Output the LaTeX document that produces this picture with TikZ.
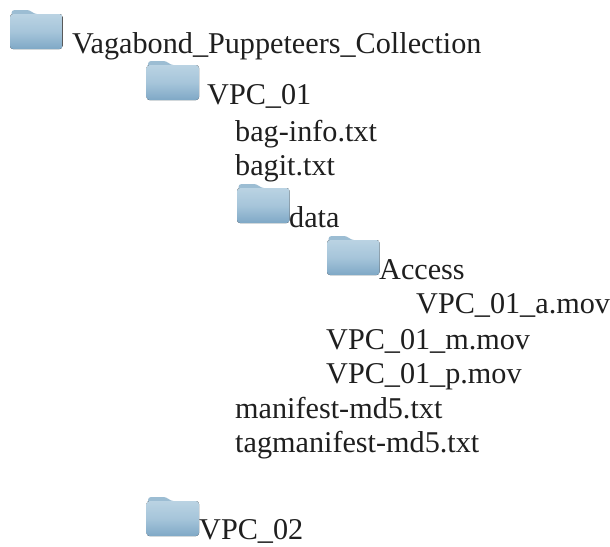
\documentclass[tikz,border=0pt]{standalone}
\usepackage{fontspec}
\setmainfont{Liberation Serif}
\definecolor{fdark}{HTML}{7FA8C6}
\definecolor{fmid}{HTML}{A6C5DA}
\definecolor{flight}{HTML}{BAD3E3}
\definecolor{ftop}{HTML}{9CBDD3}
\definecolor{txt}{HTML}{1F1F1F}
\tikzset{x=1pt,y=-1pt,
 lbl/.style={anchor=base west,inner sep=0pt,font=\fontsize{30.2}{34}\selectfont,text=txt},
 pics/foldericon/.style={code={
  \fill[ftop,rounded corners=3pt] (1.5,12) -- (1.5,1) -- (20,1) -- (24,5) -- (51,5) -- (51,12) -- cycle;
  \fill[top color=flight,bottom color=fdark,middle color=fmid,rounded corners=3pt] (0,5) rectangle (52.5,40);
 }}}
\begin{document}
\begin{tikzpicture}
\useasboundingbox (0,0) rectangle (610,546);
\fill[white] (0,0) rectangle (610,546);
\pic at (10,9) {foldericon};
\pic at (146.5,60) {foldericon};
\pic at (237,183) {foldericon};
\pic at (327,235) {foldericon};
\pic at (146.5,496) {foldericon};
\node[lbl] (root) at (72,53) {Vagabond\_Puppeteers\_Collection};
\node[lbl] (v1) at (207,104) {VPC\_01};
\node[lbl] (bi) at (235,141) {bag-info.txt};
\node[lbl] (bg) at (235,175) {bagit.txt};
\node[lbl] (dt) at (289,227) {data};
\node[lbl] (ac) at (379,279) {Access};
\node[lbl] (ma) at (416,313) {VPC\_01\_a.mov};
\node[lbl] (mm) at (326,349) {VPC\_01\_m.mov};
\node[lbl] (mp) at (326,383) {VPC\_01\_p.mov};
\node[lbl] (mf) at (235,418) {manifest-md5.txt};
\node[lbl] (tm) at (235,452) {tagmanifest-md5.txt};
\node[lbl] (v2) at (199,539) {VPC\_02};
\end{tikzpicture}
\end{document}
